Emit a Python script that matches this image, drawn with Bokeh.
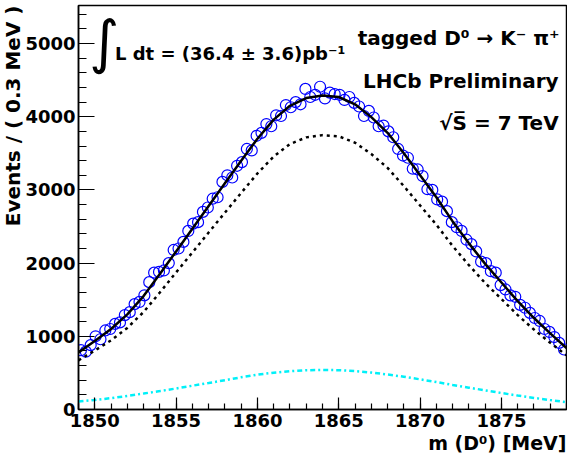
import math
from bokeh.plotting import figure
from bokeh.models import Label, SingleIntervalTicker, Range1d, Title
from bokeh.embed import file_html
from bokeh.resources import INLINE

# ---------------- data ----------------
bin_low = 1849.0
bin_width = 0.3
events = [810, 790, 880, 1000, 960, 1080, 1100, 1170, 1190, 1290,
          1330, 1440, 1470, 1560, 1740, 1870, 1880, 1900, 2000, 2180,
          2200, 2290, 2440, 2540, 2560, 2700, 2760, 2880, 2900, 3110,
          3200, 3170, 3330, 3380, 3560, 3540, 3740, 3780, 3900, 3870,
          4020, 4010, 4160, 4130, 4200, 4170, 4380, 4270, 4300, 4410,
          4250, 4330, 4310, 4300, 4230, 4270, 4190, 4140, 4010, 4080,
          3990, 3870, 3880, 3800, 3720, 3560, 3470, 3440, 3290, 3280,
          3190, 3010, 3000, 2870, 2840, 2710, 2560, 2490, 2440, 2320,
          2260, 2160, 2020, 2000, 1890, 1870, 1700, 1640, 1560, 1540,
          1430, 1390, 1320, 1250, 1210, 1100, 1060, 990, 910, 820]
mass_centers = [bin_low + bin_width * (i + 0.5) for i in range(len(events))]

curve_mass = [1849, 1850, 1851, 1852, 1853, 1854, 1855, 1856, 1857, 1858,
              1859, 1860, 1861, 1862, 1863, 1864, 1865, 1866, 1867, 1868,
              1869, 1870, 1871, 1872, 1873, 1874, 1875, 1876, 1877, 1878, 1879]
total_fit = [780, 935, 1100, 1300, 1550, 1850, 2160, 2470, 2780, 3090,
             3400, 3700, 3960, 4150, 4255, 4290, 4270, 4170, 3995, 3780,
             3500, 3200, 2900, 2570, 2270, 1990, 1735, 1480, 1250, 1040, 840]
background_fit = [108, 130, 155, 185, 218, 252, 287, 325, 362, 400,
                  440, 475, 503, 523, 537, 541, 537, 525, 505, 478,
                  448, 412, 375, 336, 298, 262, 225, 190, 158, 128, 100]
signal_fit = [672, 805, 945, 1115, 1332, 1598, 1873, 2145, 2418, 2690,
              2960, 3225, 3457, 3627, 3718, 3749, 3733, 3645, 3490, 3302,
              3052, 2788, 2525, 2234, 1972, 1728, 1510, 1290, 1092, 912, 740]

x_ticks_interval = 5
y_ticks_interval = 1000

# ---------------- figure ----------------
FONT = "DejaVu Sans"
p = figure(width=567, height=453, output_backend="svg", toolbar_location=None,
           x_range=Range1d(1849, 1879), y_range=Range1d(0, 5520),
           min_border_left=0, min_border_right=1, min_border_top=5,
           min_border_bottom=0)
p.background_fill_color = "white"
p.border_fill_color = "white"
p.outline_line_color = "black"
p.outline_line_width = 1.5
p.grid.visible = False

for ax in (p.xaxis[0], p.yaxis[0]):
    ax.axis_line_color = "black"
    ax.axis_line_width = 1.5
    ax.major_tick_line_color = "black"
    ax.minor_tick_line_color = "black"
    ax.major_tick_line_width = 1.2
    ax.minor_tick_line_width = 1.2
    ax.major_tick_out = 0
    ax.minor_tick_out = 0
    ax.major_label_text_font = FONT
    ax.major_label_text_font_style = "bold"
    ax.major_label_text_font_size = "18px"
    ax.major_label_text_color = "black"

p.xaxis[0].ticker = SingleIntervalTicker(interval=x_ticks_interval, num_minor_ticks=5)
p.yaxis[0].ticker = SingleIntervalTicker(interval=y_ticks_interval, num_minor_ticks=5)
p.xaxis[0].major_tick_in = 12
p.xaxis[0].minor_tick_in = 6
p.yaxis[0].major_tick_in = 16
p.yaxis[0].minor_tick_in = 8
p.xaxis[0].major_label_standoff = 4
p.yaxis[0].major_label_standoff = 3

# axis titles (right aligned like ROOT)
p.add_layout(Title(text="Events / ( 0.3 MeV )", align="right", text_font=FONT,
                   text_font_style="bold", text_font_size="20px",
                   standoff=-4, text_color="black"), "left")
p.add_layout(Title(text="m (D\u2070) [MeV]", align="right", text_font=FONT,
                   text_font_style="bold", text_font_size="19px",
                   standoff=0, text_color="black"), "below")

# data points
p.scatter(mass_centers, events, marker="circle", size=11, fill_color=None,
          line_color="#0000ff", line_width=1.2)
# background (cyan dash-dot)
p.line(curve_mass, background_fit, line_color="#00f0f8", line_width=2.5,
       line_dash="5 3 2 3")
# signal (dotted)
p.line(curve_mass, signal_fit, line_color="black", line_width=2.5,
       line_dash="3 4")
# total fit
p.line(curve_mass, total_fit, line_color="black", line_width=2.5)

# ---------------- texts (placed at reference pixel positions) ----------------
FL, FR, FT, FB = 79.0, 574.0, 13.0, 408.0   # estimated frame edges (page px)

def px_to_x(px):
    return 1849 + (px - FL) * 30.0 / (FR - FL)

def py_to_y(py):
    return (FB - py) * 5520.0 / (FB - FT)

def add_text(text, px, py, size, align="left", baseline="alphabetic",
             angle=0.0, style="bold"):
    p.add_layout(Label(x=px_to_x(px), y=py_to_y(py), text=text,
                       text_font=FONT, text_font_style=style,
                       text_font_size=size, text_align=align,
                       text_baseline=baseline, angle=angle,
                       text_color="black"))

add_text("\u222b", 105, 49, "58px", align="center", baseline="middle",
         style="normal")
add_text("L dt = (36.4 \u00b1 3.6)pb\u207b\u00b9", 116, 60, "18px")
add_text("tagged D\u2070 \u2192 K\u207b \u03c0\u207a", 567, 45, "20px", align="right")
add_text("LHCb Preliminary", 566, 87, "20px", align="right")
add_text("\u221aS\u0305 = 7 TeV", 566, 128, "20px", align="right")

open("out.html", "w").write(file_html(p, INLINE))
